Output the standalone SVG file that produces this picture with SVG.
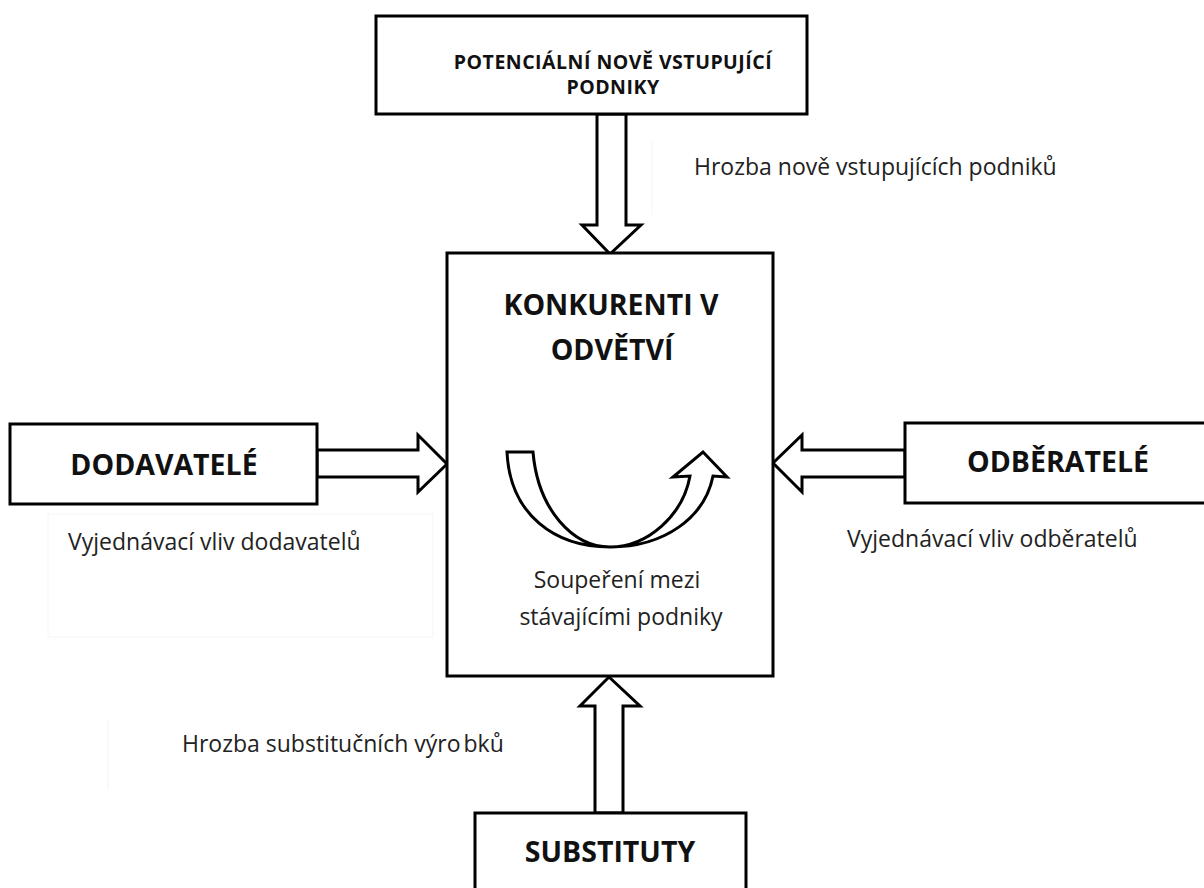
<svg xmlns="http://www.w3.org/2000/svg" width="1204" height="888" viewBox="0 0 1204 888">
<style>
.box{fill:#fff;stroke:#000;stroke-width:3}
.arr{fill:#fff;stroke:#000;stroke-width:3;stroke-linejoin:miter}
.faint{fill:none;stroke:#f5f5f5;stroke-width:1}
.bt{font-family:"Open Sans","Liberation Sans",sans-serif;font-weight:bold;fill:#111;text-anchor:middle}
.t{font-family:"Open Sans","Liberation Sans",sans-serif;fill:#222;font-size:23px}
</style>
<rect width="1204" height="888" fill="#fff"/>
<g id="faint-textboxes">
<path class="faint" d="M48,514 L433,514 L433,637 L48,637 Z"/>
<path class="faint" d="M108,720 L108,790"/>
<path class="faint" d="M652,140 L652,215"/>
<path class="faint" d="M485,555 L752,555 M485,555 L485,640"/>
</g>
<g id="connectors">
<path id="arrow-top" class="arr" d="M597,114 L626,114 L626,225 L641,225 L610,254 L582,225 L597,225 Z"/>
<path id="arrow-left" class="arr" d="M317,450 L418,450 L418,435 L447,464 L418,492 L418,477 L317,477 Z"/>
<path id="arrow-right" class="arr" d="M905,450 L802,450 L802,435 L773,463 L802,492 L802,477 L905,477 Z"/>
<path id="arrow-bottom" class="arr" d="M595,813 L595,706 L580,706 L609,677 L640,706 L623,706 L623,813 Z"/>
</g>
<g id="node-potencialni">
<rect class="box" x="376" y="16" width="431" height="98"/>
<text class="bt" font-size="19.5" letter-spacing="0.5" x="613" y="69">POTENCIÁLNÍ NOVĚ VSTUPUJÍCÍ</text>
<text class="bt" font-size="19.5" letter-spacing="0.5" x="613" y="94">PODNIKY</text>
</g>
<g id="node-konkurenti">
<rect class="box" x="447" y="253" width="326" height="423"/>
<text class="bt" font-size="28.5" x="611" y="315">KONKURENTI V</text>
<text class="bt" font-size="28.5" x="612" y="360">ODVĚTVÍ</text>
<path id="curved-arrow" class="arr" stroke-width="2.5" d="M507,452 L533,452 C538,510 573,547 610,547 C648,547 683,515 690,476 L673,477 L703,452 L727,477 L713,476 C705,517 665,547 610,547 C555,547 510,515 507,452 Z"/>
<text class="t" font-size="20" x="617" y="588" text-anchor="middle">Soupeření mezi</text>
<text class="t" font-size="20" x="621" y="625" text-anchor="middle">stávajícími podniky</text>
</g>
<g id="node-dodavatele">
<rect class="box" x="10" y="424" width="307" height="80"/>
<text class="bt" font-size="28.5" x="164" y="475">DODAVATELÉ</text>
</g>
<g id="node-odberatele">
<rect class="box" x="905" y="423" width="315" height="80"/>
<text class="bt" font-size="28.5" x="1058" y="472">ODBĚRATELÉ</text>
</g>
<g id="node-substituty">
<rect class="box" x="475" y="813" width="271" height="90"/>
<text class="bt" font-size="28.5" x="610" y="862">SUBSTITUTY</text>
</g>
<g id="labels">
<text class="t" x="694" y="175">Hrozba nově vstupujících podniků</text>
<text class="t" x="68" y="550">Vyjednávací vliv dodavatelů</text>
<text class="t" x="847" y="547">Vyjednávací vliv odběratelů</text>
<text class="t" x="182" y="752">Hrozba substitučních výro<tspan dx="3">bků</tspan></text>
</g>
</svg>
